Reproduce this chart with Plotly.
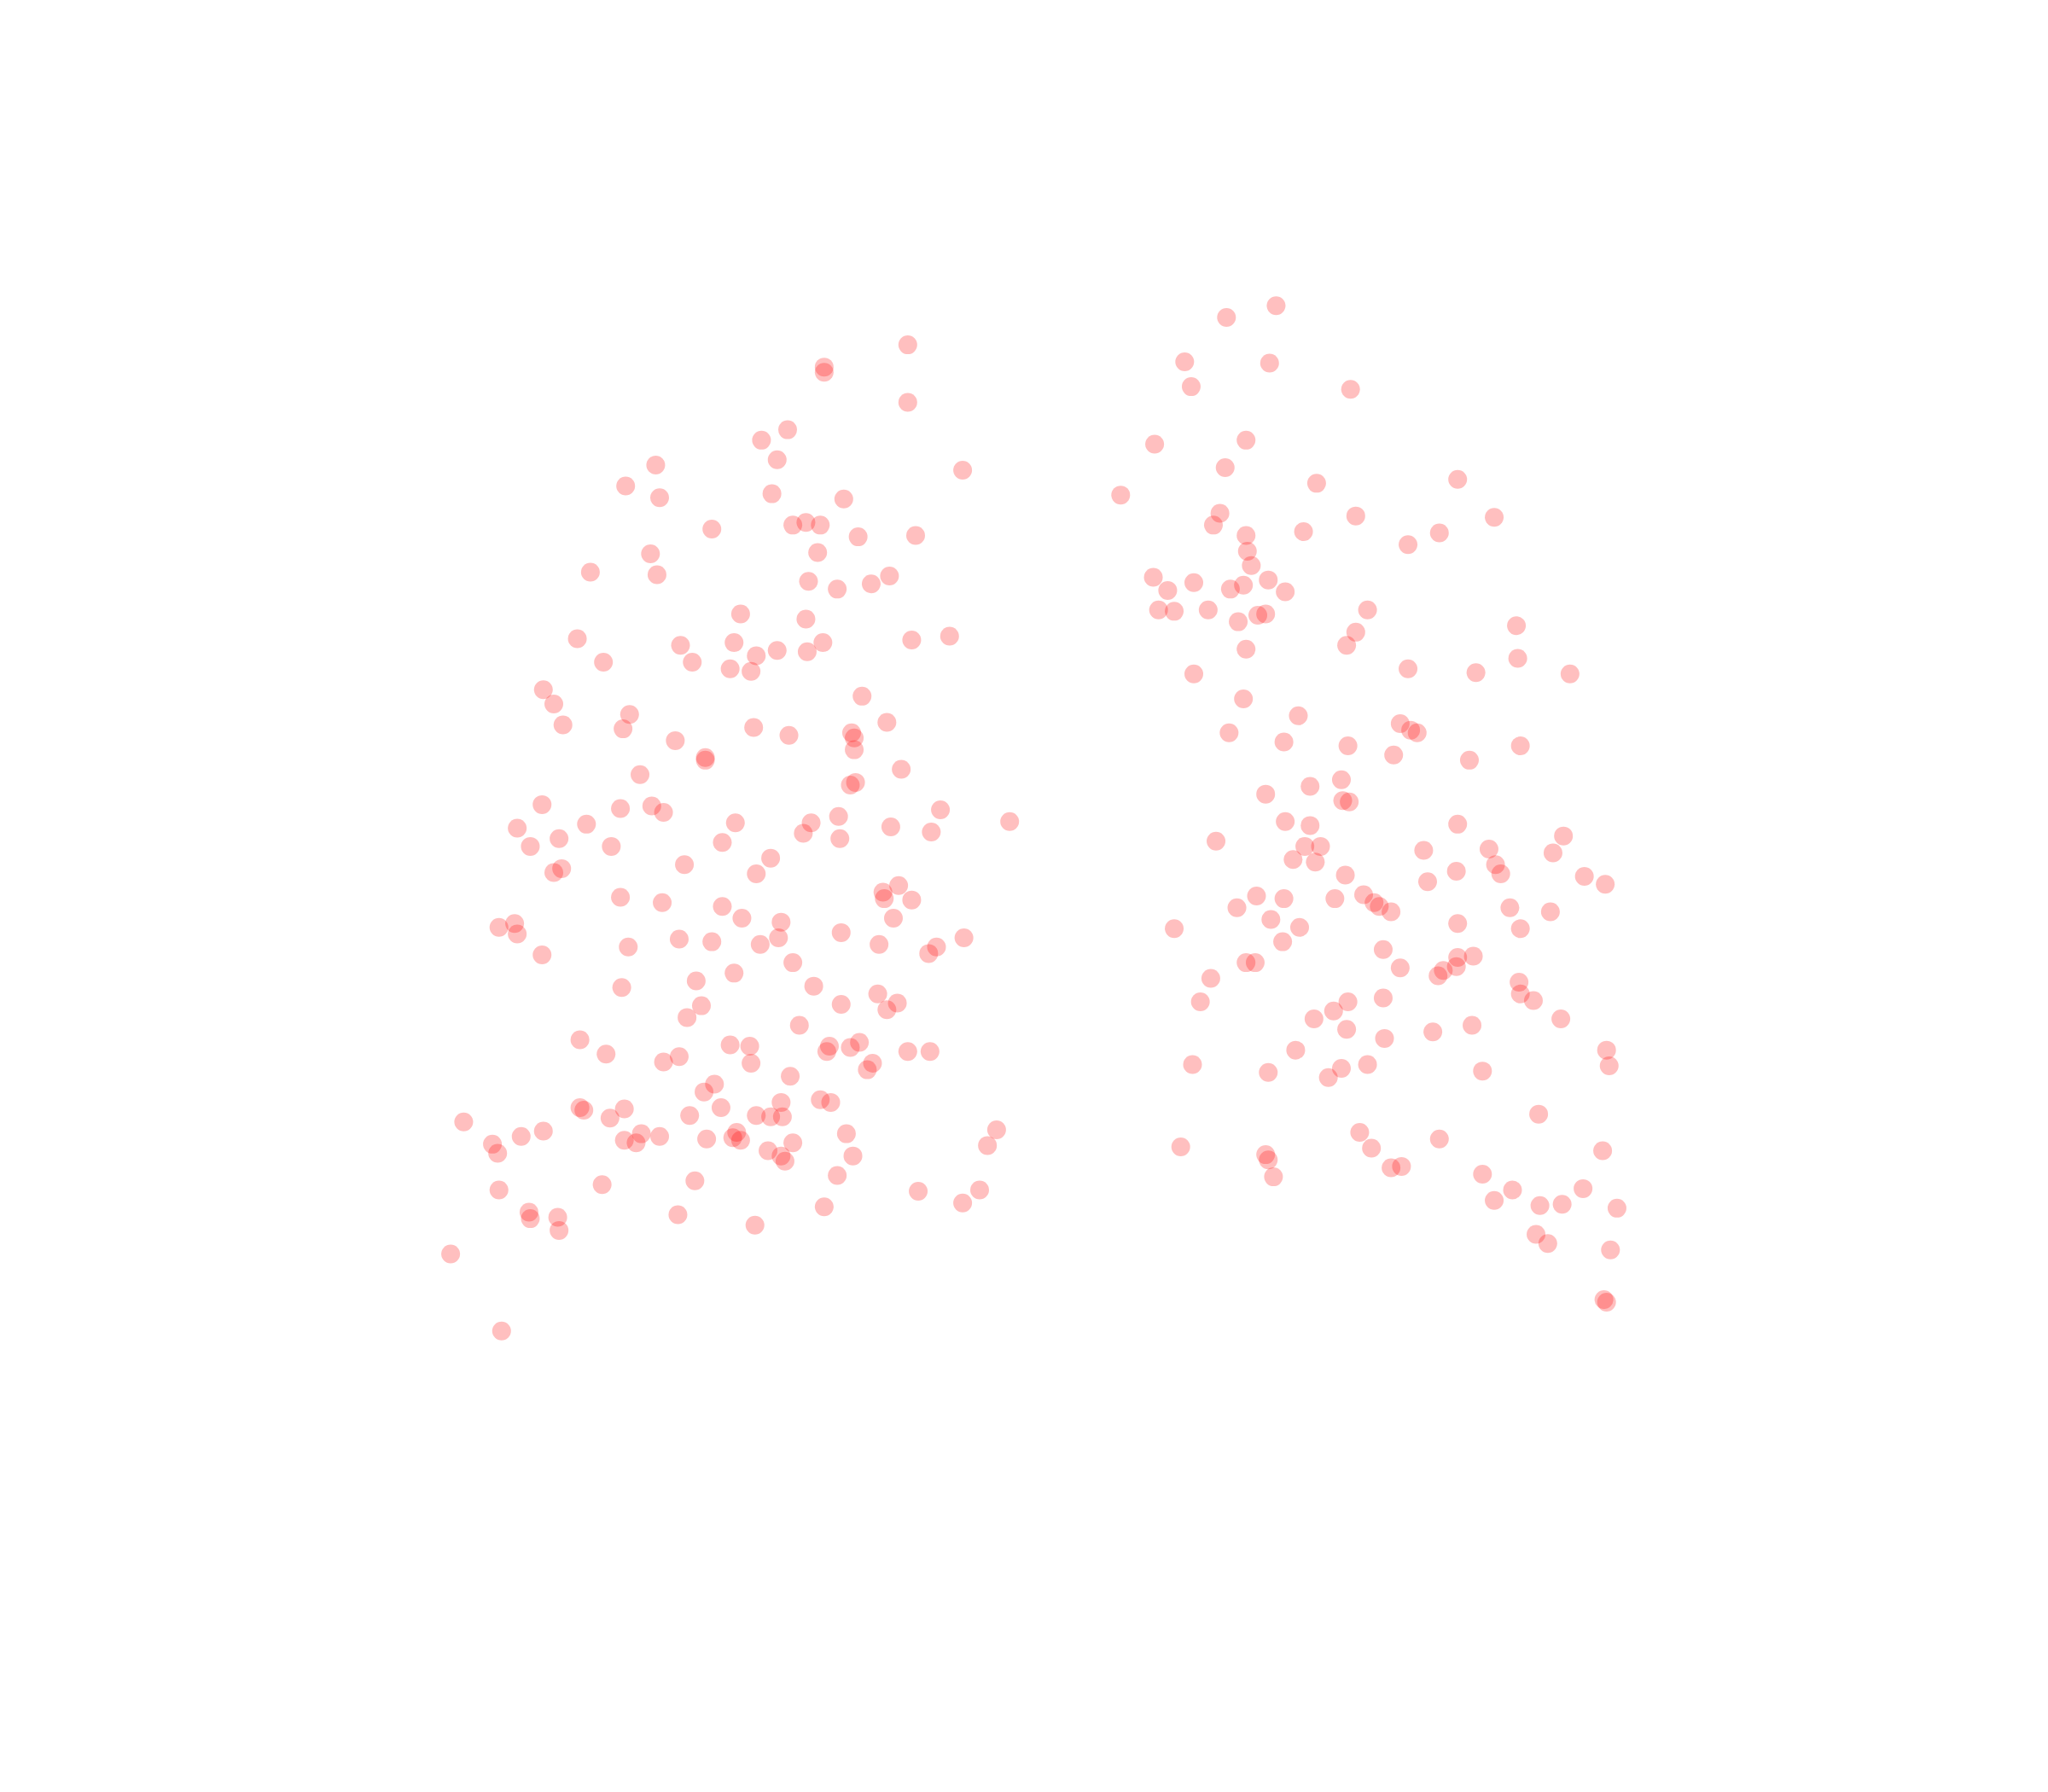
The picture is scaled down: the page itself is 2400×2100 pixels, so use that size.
import plotly.graph_objects as go

left_x = [631,631,695,695,603,583,595,502,737,479,505,591,646,545,607,617,628,657,701,498,626,452,503,619,641,667,681,567,617,442,521,562,595,618,630,698,727,462,530,579,559,575,416,424,660,482,431,477,577,604,652,654,679,517,654,540,540,490,690,651,655,415,475,499,508,720,449,563,621,642,773,396,682,713,615,428,643,406,468,553,590,524,424,430,579,676,688,677,698,475,507,553,568,684,598,382,394,396,644,520,545,596,738,481,582,673,717,711,415,607,562,533,476,623,672,537,644,687,679,526,612,444,559,574,635,633,651,658,695,712,464,520,508,575,668,664,605,547,539,628,636,598,444,447,478,552,467,528,579,590,599,355,416,399,491,505,478,487,541,561,564,567,648,763,377,381,607,756,588,598,601,653,641,532,461,382,703,750,737,631,405,406,427,519,428,578,345,384]
left_y = [281,285,264,308,329,337,352,356,360,372,381,378,382,405,402,400,402,411,410,424,423,438,440,445,451,447,441,470,474,489,494,492,498,499,492,490,487,507,507,502,512,514,528,539,533,547,555,558,557,563,561,565,553,567,574,580,582,593,589,601,599,616,619,617,622,620,631,630,630,625,629,634,633,637,638,642,642,648,648,645,657,662,668,665,669,683,678,688,689,687,691,694,703,703,706,710,707,715,714,719,721,718,718,725,723,723,725,730,731,737,745,751,756,755,761,770,769,768,773,779,785,796,800,801,801,805,802,798,805,805,807,809,813,814,814,819,824,830,836,842,844,844,848,850,849,848,856,854,854,855,855,859,866,870,868,870,873,875,872,871,867,873,868,865,876,883,875,877,881,885,889,885,900,904,907,911,912,911,921,924,928,933,932,930,942,938,960,1019]

right_x = [977,939,907,972,912,1034,954,884,938,1116,1008,858,934,1038,1144,929,998,954,1102,1078,955,958,883,914,894,942,952,971,984,887,899,925,963,969,948,1047,1161,1038,1031,954,1162,914,1078,1130,1202,952,994,1072,1080,1085,941,983,1032,1164,1067,1125,1027,1003,969,1028,1033,984,1003,1116,1197,931,999,1011,1090,1140,1189,990,1007,1145,1115,1149,1030,1213,1229,1093,962,983,1022,1044,1052,1056,1065,947,1156,1187,973,1116,899,995,1164,982,1059,954,961,1116,1128,1072,1115,1105,1101,927,1163,1164,919,1059,1032,1174,1021,1006,1195,1031,1127,1097,1060,992,1230,913,1047,1232,971,1027,1135,1017,1178,1041,1102,1050,904,969,971,1227,1065,1073,975,1135,1158,1212,1144,1179,1196,1238,1176,1185,1233,1228,1230]
right_y = [234,243,277,278,296,298,337,340,358,367,370,379,393,395,396,402,407,410,408,417,422,433,442,446,452,451,448,444,453,467,468,467,471,470,476,467,479,484,494,497,504,516,512,515,516,535,548,554,559,561,561,568,571,571,578,582,597,602,608,613,614,629,632,631,640,644,648,648,651,650,653,658,660,662,667,669,670,671,677,675,686,688,688,685,691,694,698,695,695,698,704,707,711,710,711,721,727,737,737,733,732,741,740,743,747,749,752,761,767,764,767,766,774,780,780,788,785,790,795,804,804,815,815,816,821,818,820,825,853,867,872,879,878,884,888,881,894,893,901,899,911,910,919,923,922,925,945,952,957,995,997]

fig = go.Figure()
for xs, ys in ((left_x, left_y), (right_x, right_y)):
    fig.add_trace(go.Scatter(x=xs, y=ys, mode="markers", showlegend=False,
                             marker=dict(color="red", size=22, opacity=0.25, line=dict(width=0))))
fig.update_layout(width=2400, height=2100, margin=dict(l=0, r=0, t=0, b=0),
                  paper_bgcolor="white", plot_bgcolor="white", showlegend=False)
fig.update_xaxes(range=[5.2, 1573.2], visible=False)
fig.update_yaxes(range=[1377.2, 5.2], visible=False)
fig.write_html("out.html")
